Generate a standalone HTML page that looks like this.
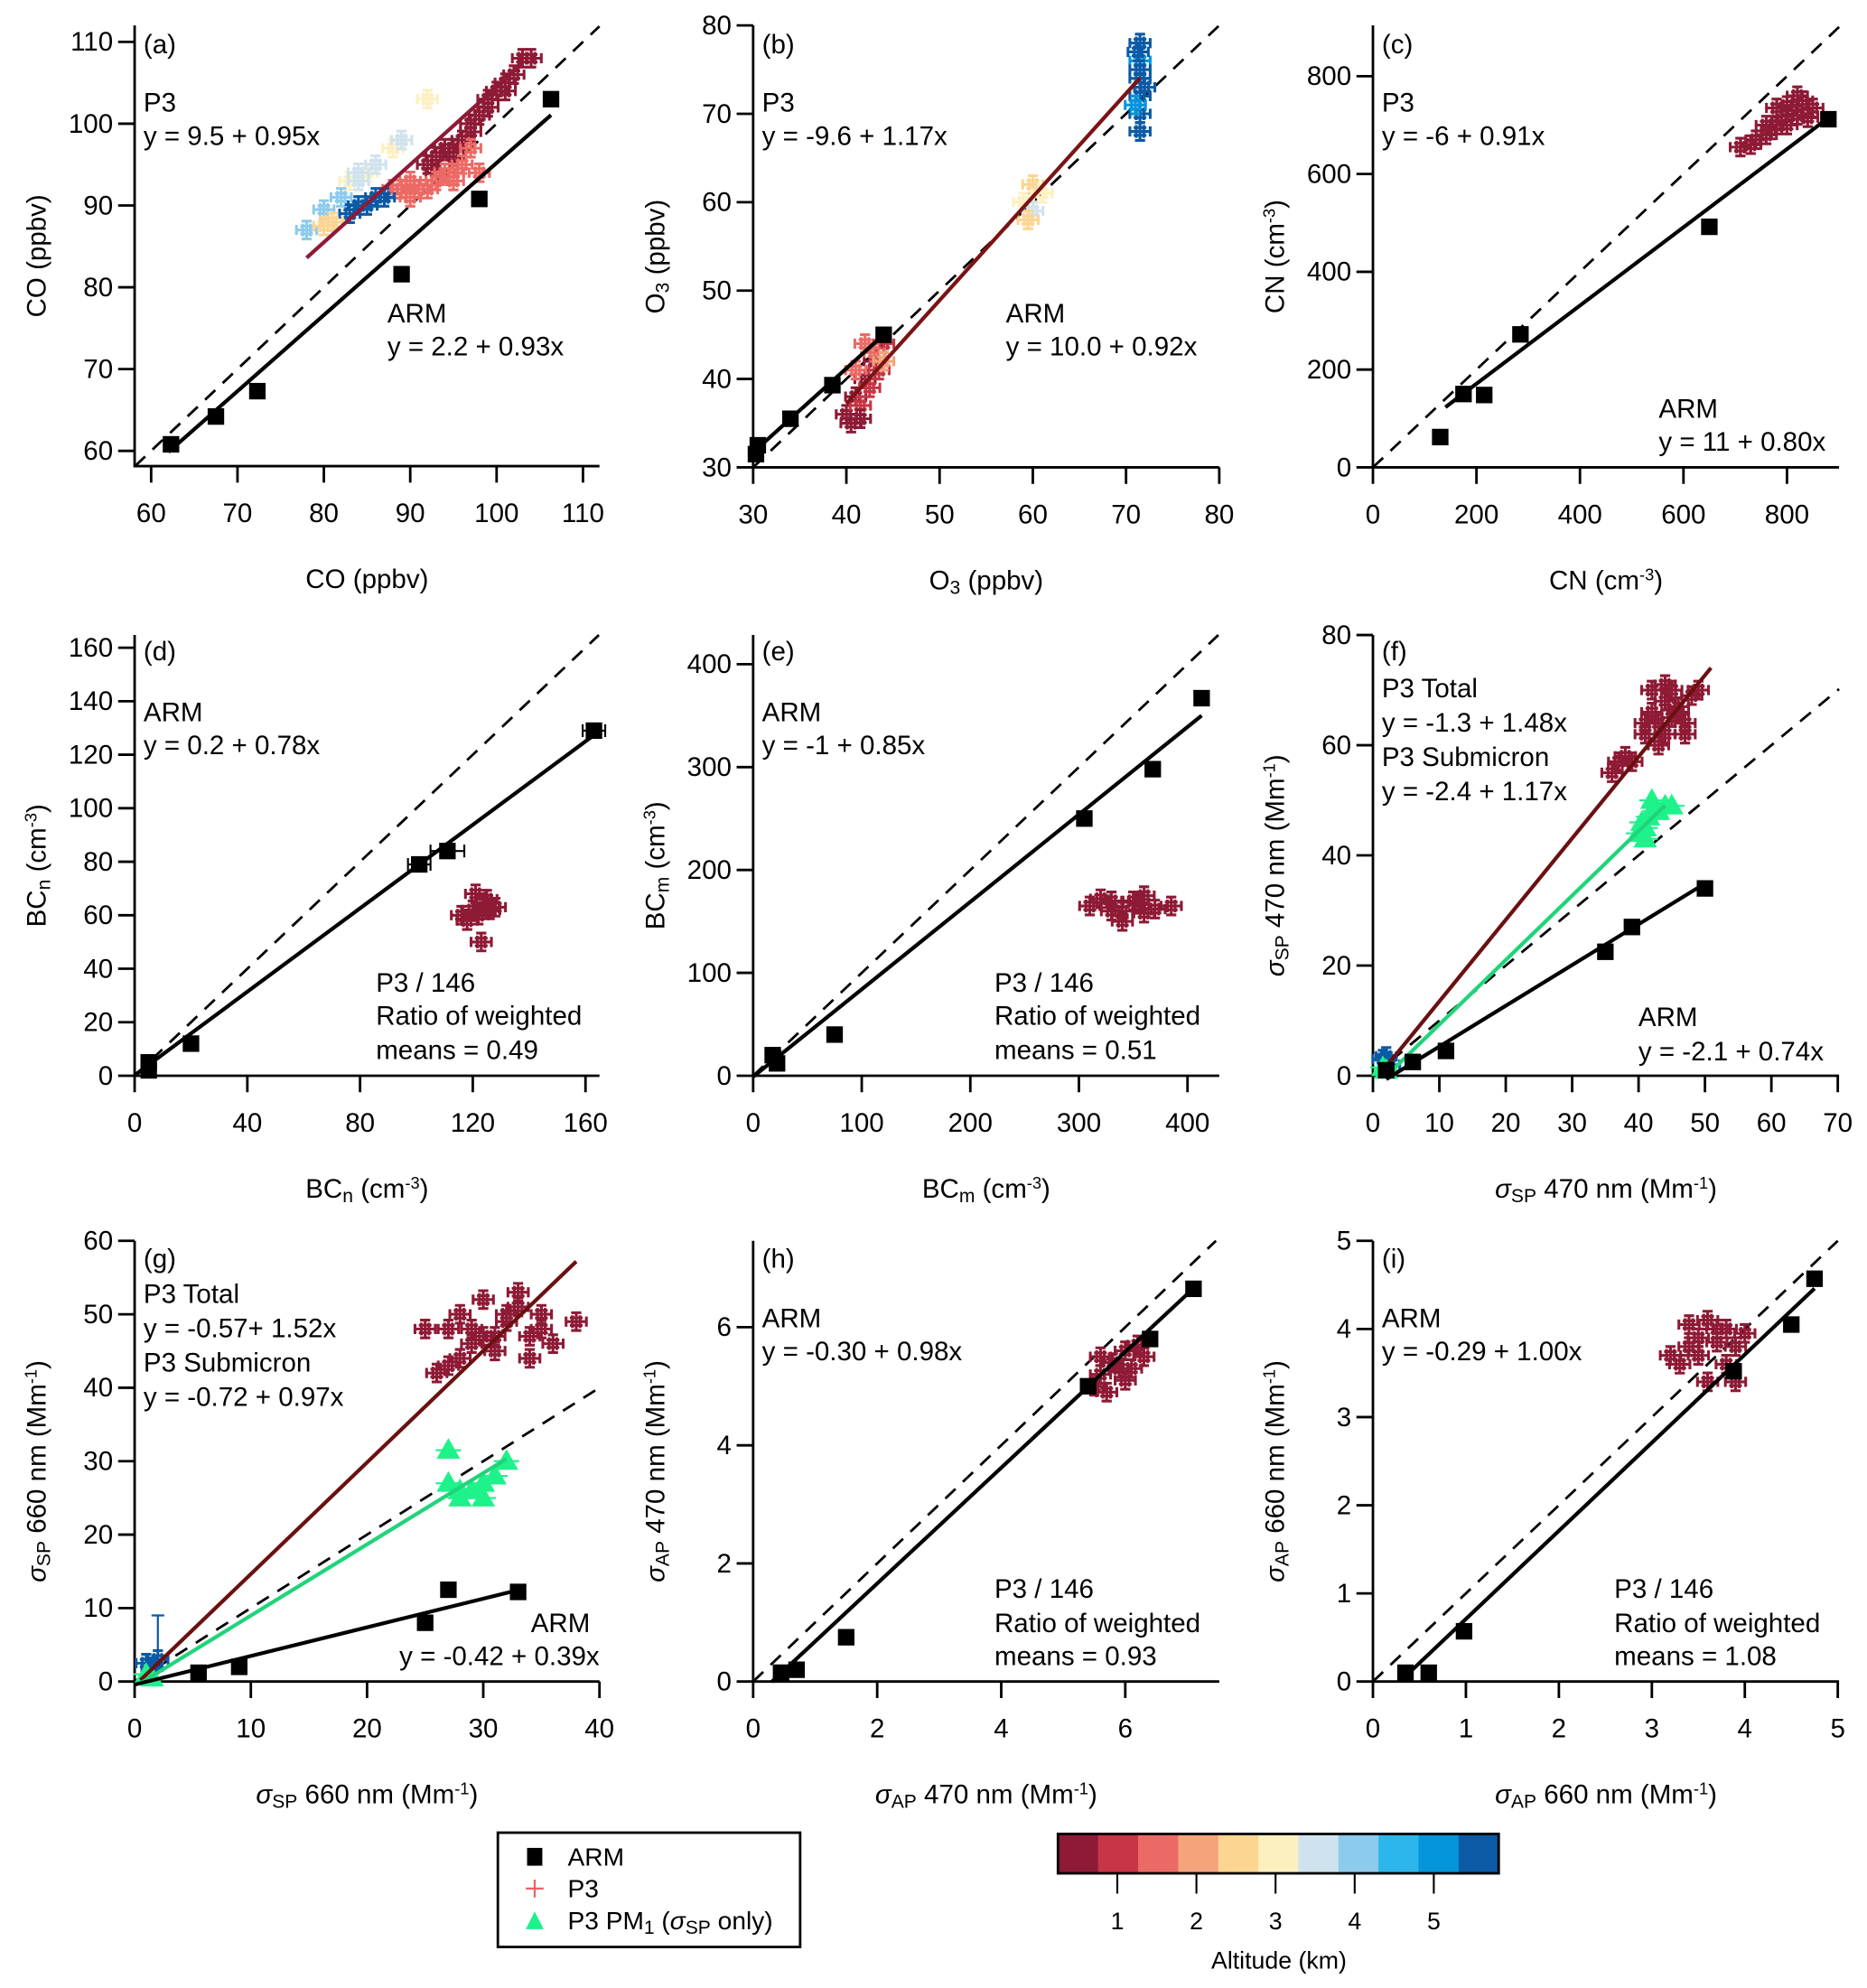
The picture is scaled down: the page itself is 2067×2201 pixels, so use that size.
<!DOCTYPE html>
<html><head><meta charset="utf-8">
<style>
html,body{margin:0;padding:0;background:#fff;}
svg{display:block;font-family:"Liberation Sans",Arial,sans-serif;}
text{fill:#000;}
</style></head>
<body>
<svg id="fig" width="2067" height="2201" viewBox="0 0 1470 1565.3" preserveAspectRatio="none" xmlns="http://www.w3.org/2000/svg">
<rect x="0" y="0" width="1470" height="1566" fill="#fff"/>
</svg>
<script>
// ---- data arrays ----
const altColors = ['#8e1a35','#c83545','#ec6a65','#f5a37b','#fcd592','#fdf0c0','#cfe3ee','#8dcbec','#2cb6ec','#0595db','#0b5aa6'];
const altTicks = [1,2,3,4,5];

const armA_x = [62.3,67.5,72.3,89,98,106.3];
const armA_y = [60.8,64.2,67.3,81.6,90.8,103];
const p3A_x = [92,93,94,95,96,97,98,99,100,101,102,103,104,93,95,97,99,101,88,89,90,91,92,93,94,95,96,97,98,90,95,92,88,89,85,83,86,84,78,80,82,84,89,83,84,85,86,87,80,81];
const p3A_y = [95,96,97,97,98,99,101,103,104,105,106,108,108,94,96,100,102,104,92,92,93,92,92,93,94,94,95,97,94,91,93,103,97,98,94,93,95,94,87,89.5,91,93,98,89,90,90,91,91,87.5,88];
const p3A_c = [0,0,0,0,0,0,0,0,0,0,0,0,0,0,0,0,0,0,2,2,2,2,2,2,2,2,2,2,2,2,2,5,5,5,5,5,6,6,7,7,7,6,6,10,10,10,10,10,4,4];

const armB_x = [30.3,30.5,34,38.5,44];
const armB_y = [31.5,32.5,35.5,39.3,45];
const p3B_x = [40,40.5,41,41.5,42,42.5,43,43.5,44,41,42,43,41.5,44,59,60,61,60,59.5,71.5,71.5,71.5,71.5,71.5,71.5,71,72,71.5,71.3];
const p3B_y = [36,35,38,37,40,39,42,41,44,41,44,43,35.5,42,60,62,61,59,58,68,70,72,74,76,78,71,73,75,77];
const p3B_c = [0,0,0,1,0,1,0,1,1,2,2,2,0,3,5,4,5,6,4,10,10,10,10,9,10,9,10,10,10];

const armC_x = [130,175,215,285,650,880];
const armC_y = [62,150,148,272,492,712];
const p3C_x = [710,730,740,760,770,780,790,800,810,820,830,840,800,780,820,760,850];
const p3C_y = [655,660,670,680,690,700,710,700,730,720,750,715,740,735,760,700,735];

const armD_x = [5,5,20,101,111,163];
const armD_y = [2,5,12,79,84,129];
const p3D_x = [116,118,120,122,124,126,128,121,123,125];
const p3D_y = [60,58,62,60,63,62,63,68,50,66];

const armE_x = [18,22,75,305,368,413];
const armE_y = [20,12,40,250,298,367];
const p3E_x = [310,320,330,340,350,360,370,385,340,330,360,355];
const p3E_y = [165,172,160,150,170,175,162,165,160,170,158,168];

const armF_x = [2,6,11,35,39,50];
const armF_y = [1,2.5,4.5,22.5,27,34];
const p3F_x = [36,37,38,39,41,42,43,44,45,46,47,48,49,43,44,45,46,42,44,41,47];
const p3F_y = [55,57,58,57,62,66,64,68,70,66,64,69,70,60,62,65,67,70,71,64,62];
const pmF_x = [40,40.5,41,41.5,42,42.5,43,44,45,41,1.5,2];
const pmF_y = [44,46,45,47,50,48,48,49,49,43,1.5,1];
const p3F_blue_x = [1.5,2,2.5];
const p3F_blue_y = [3,3.5,2];

const armG_x = [5.5,9,25,27,33];
const armG_y = [1.2,2,8,12.5,12.2];
const p3G_x = [25,26,27,28,29,30,31,32,33,34,35,36,38,29,31,33,27,30,32,35,28,34];
const p3G_y = [48,42,43,50,46,52,45,49,51,47,50,46,49,48,47,53,48,47,50,48,44,44];
const pmG_x = [27,27,28,29,30,31,32,30,28,1,1.5];
const pmG_y = [31.5,27,25,26,25,28,30,27,26,1,0.5];
const p3G_blue_x = [1,2,1.5];
const p3G_blue_y = [2.5,3,2];

const armH_x = [0.45,0.7,1.5,5.4,6.4,7.1];
const armH_y = [0.15,0.2,0.75,5.0,5.8,6.65];
const p3H_x = [5.5,5.6,5.7,5.8,5.9,6.0,6.1,6.2,6.3,5.6,6.0];
const p3H_y = [5.0,5.2,4.9,5.4,5.3,5.6,5.3,5.7,5.5,5.5,5.1];

const armI_x = [0.35,0.6,0.98,3.88,4.5,4.75];
const armI_y = [0.1,0.1,0.57,3.52,4.05,4.57];
const p3I_x = [3.2,3.3,3.4,3.5,3.6,3.7,3.8,3.9,4.0,3.5,3.7,3.6,3.9,3.4,3.8];
const p3I_y = [3.7,3.6,4.05,3.9,3.4,4.0,3.6,3.8,3.95,3.7,3.85,4.1,3.4,3.8,4.0];

// fit lines: [intercept, slope, xStart, xEnd]
const fitA_arm = [2.2,0.93,62,106.3], fitA_p3 = [9.5,0.95,78,103];
const fitB_arm = [3.2,0.95,30.3,44], fitB_p3 = [-9.6,1.17,40,71.5];
const fitC_arm = [11,0.80,140,880];
const fitD_arm = [0.2,0.78,0,163];
const fitE_arm = [-1,0.85,0,413];
const fitF_arm = [-2.1,0.74,2,50], fitF_p3 = [-1.3,1.48,2,50.9], fitF_pm = [-2.4,1.17,2,44];
const fitG_arm = [-0.42,0.39,0,33], fitG_p3 = [-0.57,1.52,0.5,38], fitG_pm = [-0.72,0.97,0.5,32];
const fitH_arm = [-0.30,0.98,0.3,7.1];
const fitI_arm = [-0.29,1.00,0.3,4.75];

// ---- rendering ----
const NS='http://www.w3.org/2000/svg';
const svg=document.getElementById('fig');
function el(tag,attrs,parent){const e=document.createElementNS(NS,tag);for(const k in attrs)e.setAttribute(k,attrs[k]);(parent||svg).appendChild(e);return e;}

function makePanel(id,g){
  const grp=el('g',{});
  
  
  const sx=v=>g.x[1]+(v-g.x[0])*(g.x[3]-g.x[1])/(g.x[2]-g.x[0]);
  const sy=v=>g.y[1]+(v-g.y[0])*(g.y[3]-g.y[1])/(g.y[2]-g.y[0]);
  const ix=p=>g.x[0]+(p-g.x[1])*(g.x[2]-g.x[0])/(g.x[3]-g.x[1]);
  const iy=p=>g.y[0]+(p-g.y[1])*(g.y[2]-g.y[0])/(g.y[3]-g.y[1]);
  const v0=Math.max(ix(g.L),iy(g.B)), v1=Math.min(ix(g.R),iy(g.T));
  const d=el('line',{x1:sx(v0),y1:sy(v0),x2:sx(v1),y2:sy(v1),stroke:'#000','stroke-width':2,'stroke-dasharray':'11,8'},grp);
  
  
  const ax=el('path',{d:`M${g.L},${g.T}V${g.B}H${g.R}`,fill:'none',stroke:'#000','stroke-width':2},grp);
  
  
  for(const t of g.xt){const p=sx(t);el('line',{x1:p,y1:g.B,x2:p,y2:g.B+13,stroke:'#000','stroke-width':2},grp);
    const tx=el('text',{x:p,y:g.B+44,'text-anchor':'middle','font-size':21},grp);tx.textContent=t;
    
    }
  for(const t of g.yt){const p=sy(t);el('line',{x1:g.L-13,y1:p,x2:g.L,y2:p,stroke:'#000','stroke-width':2},grp);
    const tx=el('text',{x:g.L-17,y:p+7,'text-anchor':'end','font-size':21},grp);tx.textContent=t;
    
    }
  const xtl=el('text',{x:(g.L+g.R)/2,y:g.B+96,'text-anchor':'middle','font-size':21},grp);xtl.innerHTML=g.xl;
  
  
  const ytl=el('text',{x:0,y:0,'text-anchor':'middle','font-size':21,transform:`translate(${g.L-70},${(g.T+g.B)/2+8}) rotate(-90)`},grp);ytl.innerHTML=g.yl;
  
  
  for(const [txt,x,y,anc] of g.notes){const t=el('text',{x:x,y:y,'font-size':21,'text-anchor':anc||'start'},grp);t.textContent=txt;
    
    }
  const api={grp,sx,sy,
    p3(xs,ys,cs,col){for(let i=0;i<xs.length;i++){const c=cs?altColors[cs[i]]:col;const X=sx(xs[i]),Y=sy(ys[i]);
      const m=el('path',{d:`M${X-8},${Y}H${X+8}M${X-8},${Y-4}V${Y+4}M${X+8},${Y-4}V${Y+4}M${X},${Y-7}V${Y+7}M${X-4},${Y-7}H${X+4}M${X-4},${Y+7}H${X+4}M${X-5},${Y-3}H${X+5}M${X-5},${Y+3}H${X+5}M${X-3},${Y-5}V${Y+5}M${X+3},${Y-5}V${Y+5}`,stroke:c,'stroke-width':2.2,fill:'none'},grp);
      
      }},
    pm(xs,ys){for(let i=0;i<xs.length;i++){const X=sx(xs[i]),Y=sy(ys[i]);
      const m=el('path',{d:`M${X-8},${Y+6}L${X},${Y-8}L${X+8},${Y+6}Z M${X-10},${Y}H${X+10}`,fill:'#1ef28a',stroke:'#1ef28a','stroke-width':1.5},grp);
      
      }},
    arm(xs,ys,xe){for(let i=0;i<xs.length;i++){const X=sx(xs[i]),Y=sy(ys[i]);
      if(xe&&xe[i]){const a=sx(xs[i]-xe[i]),b=sx(xs[i]+xe[i]);el('path',{d:`M${a},${Y}H${b}M${a},${Y-5}V${Y+5}M${b},${Y-5}V${Y+5}`,stroke:'#000','stroke-width':1.5},grp);}
      const m=el('rect',{x:X-6.5,y:Y-6.5,width:13,height:13,fill:'#000'},grp);
      
      }},
    fit(f,col){const l=el('line',{x1:sx(f[2]),y1:sy(f[0]+f[1]*f[2]),x2:sx(f[3]),y2:sy(f[0]+f[1]*f[3]),stroke:col,'stroke-width':3},grp);
      
      }
  };
  return api;
}
const rng=(a,b,s)=>{const r=[];for(let v=a;v<=b+1e-9;v+=s)r.push(+v.toFixed(3));return r;};
const sub=s=>`<tspan baseline-shift="-25%" font-size="15">${s}</tspan>`;
const sup=s=>`<tspan baseline-shift="55%" font-size="13">${s}</tspan>`;
const sig=`<tspan font-style="italic">σ</tspan>`;

// (a)
let P=makePanel('a',{x:[60,119,110,459],y:[60,355,110,33],L:106,B:367,R:472,T:20,xt:rng(60,110,10),yt:rng(60,110,10),
 xl:'CO (ppbv)',yl:'CO (ppbv)',notes:[['(a)',113,42],['P3',113,88],['y = 9.5 + 0.95x',113,114],['ARM',305,254],['y = 2.2 + 0.93x',305,280]]});
P.p3(p3A_x,p3A_y,p3A_c);P.fit(fitA_p3,'#8e1a35');P.fit(fitA_arm,'#000');P.arm(armA_x,armA_y);
// (b)
P=makePanel('b',{x:[30,593,80,960],y:[30,368,80,20],L:593,B:368,R:960,T:20,xt:rng(30,80,10),yt:rng(30,80,10),
 xl:'O'+sub('3')+' (ppbv)',yl:'O'+sub('3')+' (ppbv)',notes:[['(b)',600,42],['P3',600,88],['y = -9.6 + 1.17x',600,114],['ARM',792,254],['y = 10.0 + 0.92x',792,280]]});
P.p3(p3B_x,p3B_y,p3B_c);P.fit(fitB_p3,'#7a1414');P.fit(fitB_arm,'#000');P.arm(armB_x,armB_y);
// (c)
P=makePanel('c',{x:[0,1081,800,1407],y:[0,368,800,60],L:1081,B:368,R:1448,T:20,xt:rng(0,800,200),yt:rng(0,800,200),
 xl:'CN (cm'+sup('-3')+')',yl:'CN (cm'+sup('-3')+')',notes:[['(c)',1088,42],['P3',1088,88],['y = -6 + 0.91x',1088,114],['ARM',1306,329],['y = 11 + 0.80x',1306,355]]});
P.p3(p3C_x,p3C_y,null,'#8e1a35');P.fit(fitC_arm,'#000');P.arm(armC_x,armC_y);
// (d)
P=makePanel('d',{x:[0,106,160,461],y:[0,847,160,510],L:106,B:847,R:472,T:500,xt:[0,40,80,120,160],yt:rng(0,160,20),
 xl:'BC'+sub('n')+' (cm'+sup('-3')+')',yl:'BC'+sub('n')+' (cm'+sup('-3')+')',notes:[['(d)',113,520],['ARM',113,568],['y = 0.2 + 0.78x',113,594],['P3 / 146',296,781],['Ratio of weighted',296,807],['means = 0.49',296,834]]});
P.p3(p3D_x,p3D_y,null,'#8e1a35');P.fit(fitD_arm,'#000');P.arm(armD_x,armD_y,[0,0,0,4,6,4]);
// (e)
P=makePanel('e',{x:[0,593,400,935],y:[0,847,400,523],L:593,B:847,R:960,T:500,xt:rng(0,400,100),yt:rng(0,400,100),
 xl:'BC'+sub('m')+' (cm'+sup('-3')+')',yl:'BC'+sub('m')+' (cm'+sup('-3')+')',notes:[['(e)',600,520],['ARM',600,568],['y = -1 + 0.85x',600,594],['P3 / 146',783,781],['Ratio of weighted',783,807],['means = 0.51',783,834]]});
P.p3(p3E_x,p3E_y,null,'#8e1a35');P.fit(fitE_arm,'#000');P.arm(armE_x,armE_y);
// (f)
P=makePanel('f',{x:[0,1081,70,1447],y:[0,847,80,500],L:1081,B:847,R:1448,T:500,xt:rng(0,70,10),yt:rng(0,80,20),
 xl:sig+sub('SP')+' 470 nm (Mm'+sup('-1')+')',yl:sig+sub('SP')+' 470 nm (Mm'+sup('-1')+')',notes:[['(f)',1088,520],['P3 Total',1088,549],['y = -1.3 + 1.48x',1088,576],['P3 Submicron',1088,603],['y = -2.4 + 1.17x',1088,630],['ARM',1290,808],['y = -2.1 + 0.74x',1290,835]]});
P.p3(p3F_blue_x,p3F_blue_y,null,'#0b5aa6');P.p3(p3F_x,p3F_y,null,'#8e1a35');P.pm(pmF_x,pmF_y);
P.fit(fitF_p3,'#6b1010');P.fit(fitF_pm,'#20d47a');P.fit(fitF_arm,'#000');P.arm(armF_x,armF_y);
// (g)
P=makePanel('g',{x:[0,106,40,472],y:[0,1324,60,977],L:106,B:1324,R:472,T:977,xt:rng(0,40,10),yt:rng(0,60,10),
 xl:sig+sub('SP')+' 660 nm (Mm'+sup('-1')+')',yl:sig+sub('SP')+' 660 nm (Mm'+sup('-1')+')',notes:[['(g)',113,998],['P3 Total',113,1026],['y = -0.57+ 1.52x',113,1053],['P3 Submicron',113,1080],['y = -0.72 + 0.97x',113,1107],['ARM',418,1285],['y = -0.42 + 0.39x',472,1311,'end']]});
P.p3(p3G_blue_x,p3G_blue_y,null,'#0b5aa6');
el('path',{d:`M${P.sx(2)},${P.sy(3)}V${P.sy(9)}M${P.sx(2)-5},${P.sy(9)}H${P.sx(2)+5}`,stroke:'#0b5aa6','stroke-width':1.6},P.grp);
P.p3(p3G_x,p3G_y,null,'#8e1a35');P.pm(pmG_x,pmG_y);
P.fit(fitG_p3,'#6b1010');P.fit(fitG_pm,'#20d47a');P.fit(fitG_arm,'#000');P.arm(armG_x,armG_y);
// (h)
P=makePanel('h',{x:[0,593,6,886],y:[0,1324,6,1045],L:593,B:1324,R:960,T:977,xt:[0,2,4,6],yt:[0,2,4,6],
 xl:sig+sub('AP')+' 470 nm (Mm'+sup('-1')+')',yl:sig+sub('AP')+' 470 nm (Mm'+sup('-1')+')',notes:[['(h)',600,998],['ARM',600,1045],['y = -0.30 + 0.98x',600,1071],['P3 / 146',783,1258],['Ratio of weighted',783,1285],['means = 0.93',783,1311]]});
P.p3(p3H_x,p3H_y,null,'#8e1a35');P.fit(fitH_arm,'#000');P.arm(armH_x,armH_y);
// (i)
P=makePanel('i',{x:[0,1081,5,1447],y:[0,1324,5,977],L:1081,B:1324,R:1448,T:977,xt:rng(0,5,1),yt:rng(0,5,1),
 xl:sig+sub('AP')+' 660 nm (Mm'+sup('-1')+')',yl:sig+sub('AP')+' 660 nm (Mm'+sup('-1')+')',notes:[['(i)',1088,998],['ARM',1088,1045],['y = -0.29 + 1.00x',1088,1071],['P3 / 146',1271,1258],['Ratio of weighted',1271,1285],['means = 1.08',1271,1311]]});
P.p3(p3I_x,p3I_y,null,'#8e1a35');P.fit(fitI_arm,'#000');P.arm(armI_x,armI_y);

// legend
const lg=el('g',{});


el('rect',{x:392,y:1443,width:238,height:90,fill:'#fff',stroke:'#000','stroke-width':2},lg);
el('rect',{x:415,y:1455,width:12,height:14,fill:'#000'},lg);
el('path',{d:'M421,1480V1494M414,1487H428',stroke:'#f06060','stroke-width':1.6},lg);
el('path',{d:'M414,1519L421,1505L428,1519Z',fill:'#1ef28a'},lg);
[['ARM',1469],['P3',1494]].forEach(([t,y])=>{const e=el('text',{x:447,y:y,'font-size':20},lg);e.textContent=t;
  
  });
const le=el('text',{x:447,y:1519,'font-size':20},lg);le.innerHTML='P3 PM'+sub('1')+' ('+sig+sub('SP')+' only)';



// colorbar
const cb=el('g',{});


const cbL=833,cbR=1180,cbT=1444,cbB=1475;
const kmMin=0.25,kmMax=5.82;
const cx=v=>cbL+(v-kmMin)*(cbR-cbL)/(kmMax-kmMin);
const segW=(cbR-cbL)/altColors.length;
altColors.forEach((c,i)=>{const r=el('rect',{x:cbL+i*segW,y:cbT,width:segW+0.5,height:cbB-cbT,fill:c},cb);
  
  });
el('rect',{x:cbL,y:cbT,width:cbR-cbL,height:cbB-cbT,fill:'none',stroke:'#000','stroke-width':2},cb);
altTicks.forEach(t=>{const X=cx(t);el('line',{x1:X,y1:cbB,x2:X,y2:cbB+16,stroke:'#000','stroke-width':1.5},cb);
  const tx=el('text',{x:X,y:1519,'text-anchor':'middle','font-size':19},cb);tx.textContent=t;
  
  });
const at=el('text',{x:1007,y:1550,'text-anchor':'middle','font-size':19},cb);at.textContent='Altitude (km)';


</script>
</body></html>
